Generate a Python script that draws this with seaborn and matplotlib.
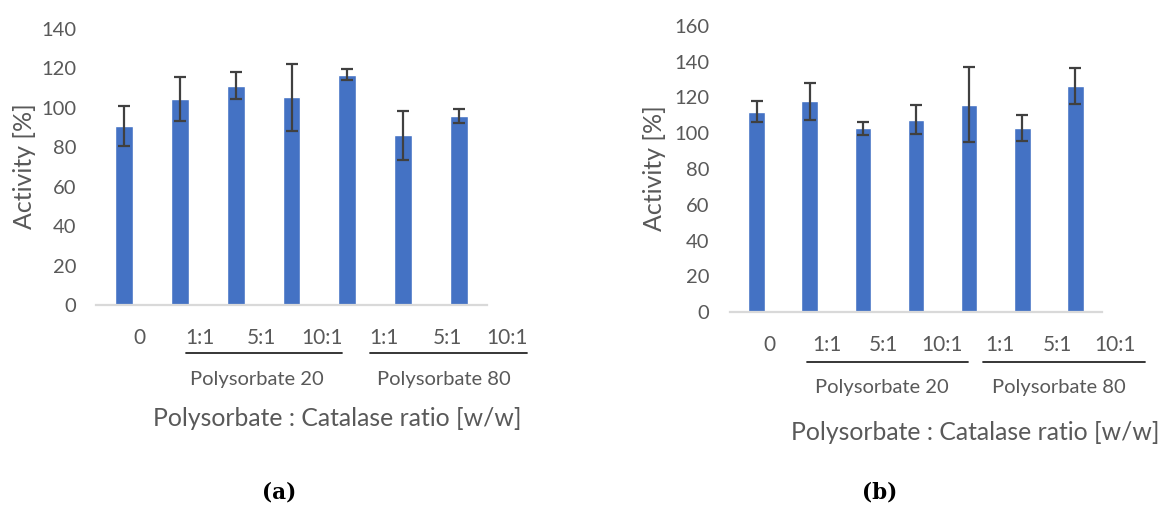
import matplotlib
matplotlib.use("Agg")
import matplotlib.pyplot as plt
import seaborn as sns
import pandas as pd

# ---- data ----
conditions = ["0", "P20 1:1", "P20 5:1", "P20 10:1", "P80 1:1", "P80 5:1", "P80 10:1"]
tick_labels = ["0", "1:1", "5:1", "10:1", "1:1", "5:1", "10:1"]
groups = ["Polysorbate 20", "Polysorbate 80"]

activity_a = [90.7, 104.4, 111.3, 105.4, 116.9, 86.1, 95.7]
error_a = [10.0, 11.3, 6.7, 17.0, 2.7, 12.5, 3.5]

activity_b = [112.0, 117.8, 102.7, 107.5, 115.9, 103.0, 126.2]
error_b = [5.8, 10.5, 3.6, 8.1, 21.0, 7.3, 10.1]

ylabel = "Activity [%]"
xlabel = "Polysorbate : Catalase ratio [w/w]"
panel_labels = ["(a)", "(b)"]

# ---- style ----
sns.set_style("white")
plt.rcParams["font.family"] = ["Lato", "DejaVu Sans"]
TXT = "#595959"
BAR = "#4472C4"
ERR = "#404040"
AX = "#D9D9D9"

W, H = 1166, 505
fig = plt.figure(figsize=(W / 100, H / 100), dpi=100)


def px_axes(l, r, t, b):
    return fig.add_axes([l / W, (H - b) / H, (r - l) / W, (b - t) / H])


def ftext(x, y, s, **kw):
    return fig.text(x / W, (H - y) / H, s, ha="center", va="center", **kw)


def draw(ax, vals, errs, ymax, step, bar_w, ypad, lab_x, lab_y, ul, glab, ul_y,
         glab_y, title_xy, ylab_xy, panel_xy, panel):
    df = pd.DataFrame({"cond": conditions, "val": vals})
    sns.barplot(data=df, x="cond", y="val", order=conditions, color=BAR,
                saturation=1, width=bar_w, errorbar=None, ax=ax, zorder=2)
    ax.errorbar(range(len(vals)), vals, yerr=errs, fmt="none", ecolor=ERR,
                elinewidth=1.6, capsize=4.2, capthick=1.6, zorder=3)
    ax.set_xlim(-0.5, len(vals) - 0.5)
    ax.set_ylim(0, ymax)
    ax.set_yticks(range(0, ymax + 1, step))
    ax.set_xticks([])
    ax.tick_params(axis="both", length=0, labelsize=14.5, labelcolor=TXT)
    ax.tick_params(axis="y", pad=ypad)
    for s in ["left", "right", "top"]:
        ax.spines[s].set_visible(False)
    ax.spines["bottom"].set_color(AX)
    ax.spines["bottom"].set_linewidth(1.6)
    ax.set_xlabel("")
    ax.set_ylabel("")
    ax.grid(False)
    # category labels (table-like row under the axis, as in the source)
    for x, t in zip(lab_x, tick_labels):
        ftext(x, lab_y, t, fontsize=15, color=TXT)
    # group underlines and labels
    for (x0, x1), (gx, name) in zip(ul, glab):
        fig.add_artist(plt.Line2D([x0 / W, x1 / W], [(H - ul_y) / H] * 2,
                                  color="#262626", lw=1.3, transform=fig.transFigure))
        ftext(gx, glab_y, name, fontsize=14.5, color=TXT)
    ftext(title_xy[0], title_xy[1], xlabel, fontsize=17.8, color=TXT)
    ftext(ylab_xy[0], ylab_xy[1], ylabel, rotation=90, fontsize=18, color=TXT)
    ftext(panel_xy[0], panel_xy[1], panel, fontsize=15.5, fontweight="bold",
          family=["DejaVu Serif"], color="#000000")


ax_a = px_axes(96, 487, 29, 305)
draw(ax_a, activity_a, error_a, 140, 20, 0.32, 14,
     lab_x=[139, 200, 261, 322, 384, 447, 507], lab_y=338,
     ul=[(186, 342), (370, 527)], glab=[(257, groups[0]), (444, groups[1])],
     ul_y=353, glab_y=379, title_xy=(337, 419), ylab_xy=(24, 166),
     panel_xy=(279, 492), panel=panel_labels[0])

ax_b = px_axes(730, 1102, 26, 312)
draw(ax_b, activity_b, error_b, 160, 20, 0.31, 15,
     lab_x=[769, 827, 883, 942, 1000, 1057, 1115], lab_y=345,
     ul=[(807, 968), (983, 1145)], glab=[(882, groups[0]), (1059, groups[1])],
     ul_y=362, glab_y=388, title_xy=(975, 432), ylab_xy=(655, 168),
     panel_xy=(880, 492), panel=panel_labels[1])

fig.savefig("out.png", dpi=100)
